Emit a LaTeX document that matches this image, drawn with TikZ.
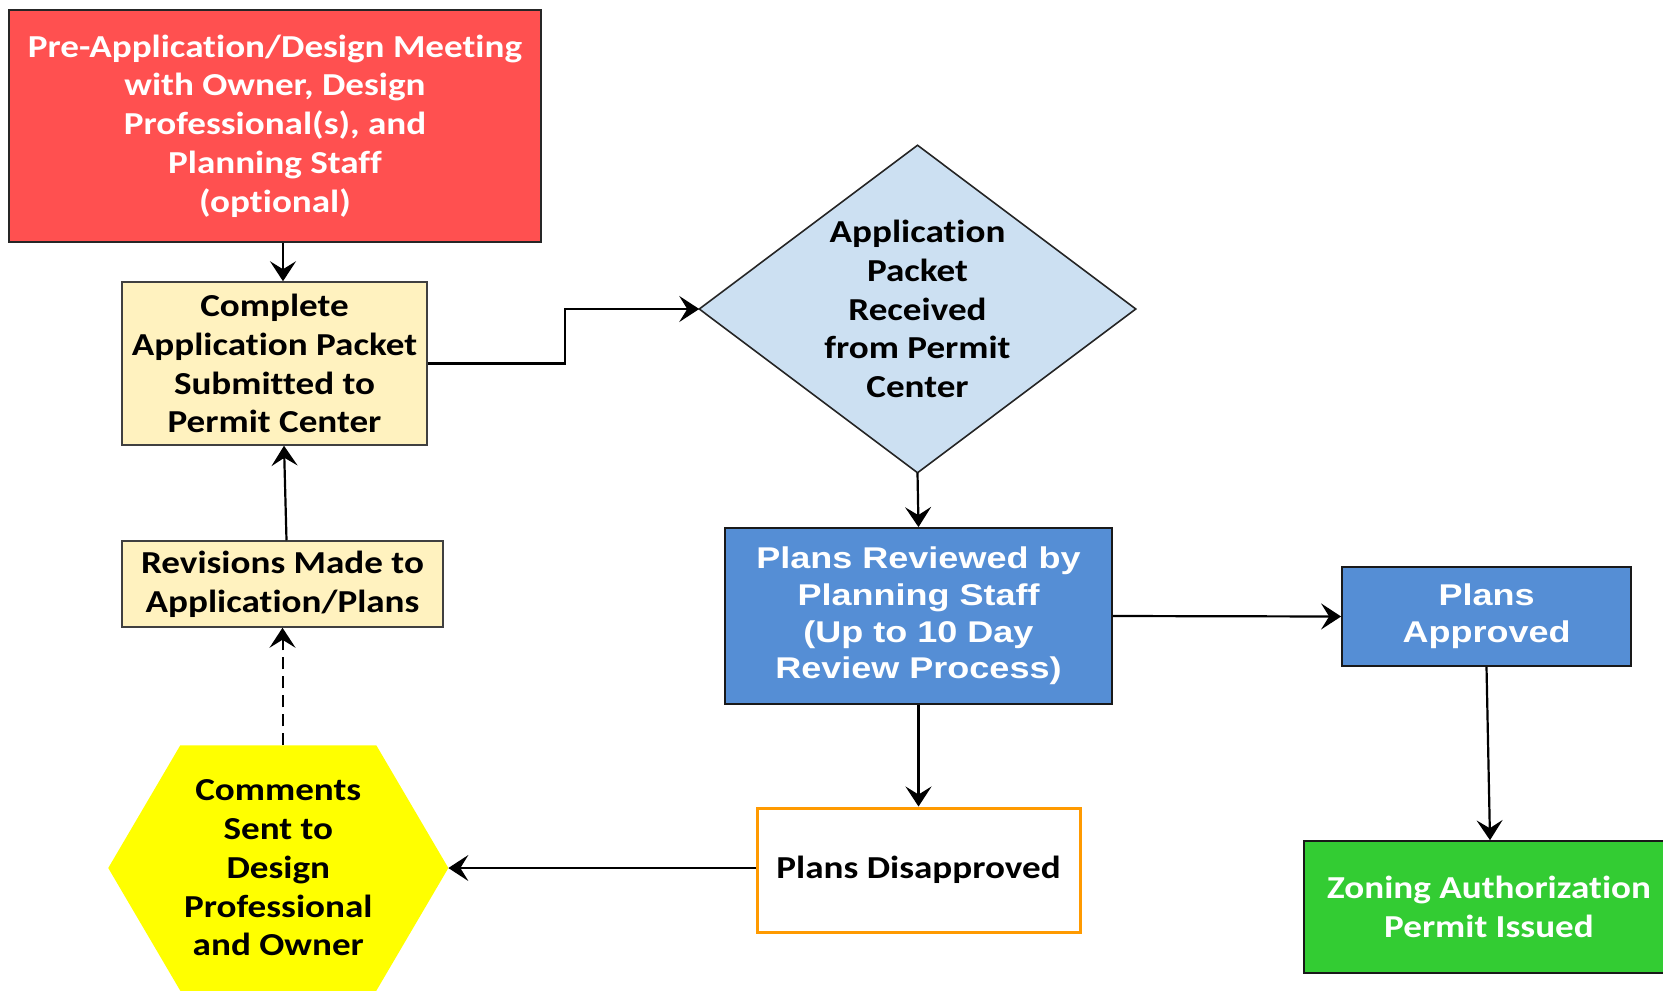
\documentclass[tikz,border=0pt]{standalone}
\usepackage{fontspec}
\usetikzlibrary{arrows.meta,backgrounds}

\newfontfamily\calib[FakeStretch=1.16,Ligatures=NoCommon]{Carlito}
\newfontfamily\arialb[FakeStretch=1.2]{Liberation Sans}

\definecolor{boxred}{HTML}{FF5050}
\definecolor{paleyellow}{HTML}{FFF2BF}
\definecolor{paleblue}{HTML}{CCE0F2}
\definecolor{midblue}{HTML}{558ED5}
\definecolor{boxorange}{HTML}{FF9A00}
\definecolor{boxgreen}{HTML}{33CC33}
\definecolor{hexyellow}{HTML}{FFFF00}

\tikzset{every picture/.style={line width=0.75pt}}
\tikzset{
  txtc/.style={font=\calib\bfseries\fontsize{16}{19.4}\selectfont, align=center, inner sep=0pt},
  txta/.style={font=\arialb\bfseries\fontsize{15}{18.4}\selectfont, align=center, inner sep=0pt},
  flow/.style={line width=1.1pt, -{Stealth[length=10pt,width=13pt,inset=4pt]}},
}

\begin{document}
\begin{tikzpicture}[x=0.5pt,y=0.5pt,yscale=-1,xscale=1]
	\useasboundingbox (0,0) rectangle (1663,991);
	
	%Shape: Rectangle
	\node [txtc, draw=black!85, fill=boxred, text=white, line width=0.8pt, minimum width=266pt, minimum height=116pt] (pre) at (275,126) {Pre-Application/Design Meeting\\with Owner, Design\\Professional(s), and\\Planning Staff\\(optional)};
	%Shape: Rectangle
	\node [txtc, draw=black!75, fill=paleyellow, minimum width=152.5pt, minimum height=81.5pt] (submit) at (274.5,363.5) {Complete\\Application Packet\\Submitted to\\Permit Center};
	%Shape: Rectangle
	\node [txtc, draw=black!75, fill=paleyellow, minimum width=160.5pt, minimum height=43pt] (rev) at (282.5,584) {Revisions Made to\\Application/Plans};
	%Shape: Diamond
	\node [txtc, minimum width=217.5pt, minimum height=163pt] (recv) at (917.5,309) {Application\\Packet\\Received\\from Permit\\Center};
	%Shape: Rectangle
	\node [txta, draw=black!90, fill=midblue, text=white, line width=0.9pt, minimum width=193.5pt, minimum height=88pt] (review) at (918.5,616) {Plans Reviewed by\\Planning Staff\\(Up to 10 Day\\Review Process)};
	%Shape: Rectangle
	\node [txta, draw=black!90, fill=midblue, text=white, line width=0.9pt, minimum width=144.5pt, minimum height=49.5pt] (appr) at (1486.5,616.5) {Plans\\Approved};
	%Shape: Rectangle
	\node [txtc, draw=black!90, fill=boxgreen, text=white, line width=0.8pt, minimum width=185pt, minimum height=66pt] (zone) at (1489,907) {Zoning Authorization\\Permit Issued};
	%Shape: Rectangle
	\node [txtc, draw=boxorange, fill=white, line width=1.5pt, minimum width=161.5pt, minimum height=62pt] (disap) at (918.5,870) {Plans Disapproved};
	%Shape: Hexagon
	\node [txtc, minimum width=169.3pt, minimum height=122pt] (cmt) at (278.3,868) {Comments\\Sent to\\Design\\Professional\\and Owner};
	
	\begin{scope}[on background layer]
	\filldraw [fill=paleblue, draw=black!85, line width=0.8pt] (recv.west) -- (recv.north) -- (recv.east) -- (recv.south) -- cycle ;
	\fill [hexyellow] (cmt.west) -- ([xshift=-49pt]cmt.north) -- ([xshift=49pt]cmt.north) -- (cmt.east) -- ([xshift=49pt]cmt.south) -- ([xshift=-49pt]cmt.south) -- cycle ;
	\end{scope}
	
	%Straight Lines
	\draw [flow] ([xshift=4pt]pre.south) -- ([xshift=4.25pt]submit.north) ;
	%Straight Lines
	\draw [flow] (submit.east) -- ++(137,0) |- (recv.west) ;
	%Straight Lines
	\draw [flow] (recv.south) -- (review.north) ;
	%Straight Lines
	\draw [flow] (review.east) -- (appr.west) ;
	%Straight Lines
	\draw [flow] (appr.south) -- ([xshift=0.5pt]zone.north) ;
	%Straight Lines
	\draw [flow] (review.south) -- (disap.north) ;
	%Straight Lines
	\draw [flow] (disap.west |- cmt.east) -- (cmt.east) ;
	%Straight Lines
	\draw [flow, dash pattern=on 6pt off 3.5pt, line width=1pt] (rev.south |- cmt.north) -- (rev.south) ;
	%Straight Lines
	\draw [flow] ([xshift=2pt]rev.north) -- ([xshift=4.75pt]submit.south) ;
	
\end{tikzpicture}
\end{document}
